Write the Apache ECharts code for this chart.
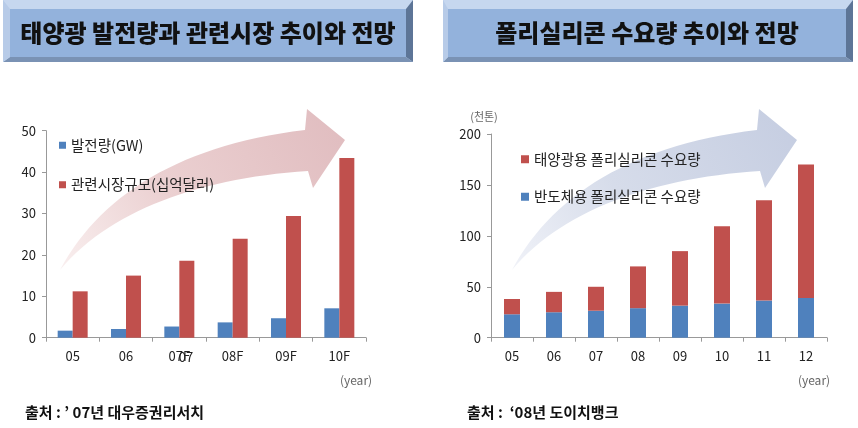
<!DOCTYPE html>
<html><head><meta charset="utf-8">
<script src="https://cdn.jsdelivr.net/npm/echarts@6/dist/echarts.min.js"></script>
<style>html,body{margin:0;padding:0;background:#fff}#c{width:858px;height:428px}</style>
</head><body><div id="c"></div>
<script>
// ---- data ----
const leftTitle = '태양광 발전량과 관련시장 추이와 전망';
const rightTitle = '폴리실리콘 수요량 추이와 전망';
const leftCategories = ['05', '06', '07F', '08F', '09F', '10F'];
const leftOverlayLabel = '07';
const powerGW = [1.7, 2.1, 2.7, 3.7, 4.7, 7.1];
const marketBillionUSD = [11.2, 15.0, 18.6, 23.9, 29.4, 43.4];
const leftSeriesNames = ['발전량(GW)', '관련시장규모(십억달러)'];
const leftYTicks = [0, 10, 20, 30, 40, 50];

const rightCategories = ['05', '06', '07', '08', '09', '10', '11', '12'];
const semiDemand = [23, 25, 26.5, 29, 31.5, 33.5, 36.5, 39];
const solarDemand = [15, 20, 23.5, 41, 53.5, 76, 98.5, 131];
const rightSeriesNames = ['태양광용 폴리실리콘 수요량', '반도체용 폴리실리콘 수요량'];
const rightYTicks = [0, 50, 100, 150, 200];
const rightUnit = '(천톤)';
const yearLabel = '(year)';
const leftSource = '출처 : ’ 07년 대우증권리서치';
const rightSource = '출처 :  ‘08년 도이치뱅크';

// ---- chart ----
const FONT = '"Noto Sans CJK KR", "Noto Sans", sans-serif';
const BLUE = '#4f81bd', RED = '#c0504d';
const chart = echarts.init(document.getElementById('c'), null, {renderer: 'canvas'});

function titleBox(x0, x1, ix0, ix1, text) {
  const y0 = 0, y1 = 62, iy0 = 9, iy1 = 57;
  return [
    {type: 'rect', z: 0, shape: {x: x0, y: y0, width: x1 - x0, height: y1 - y0}, style: {fill: '#c6d7ef'}},
    {type: 'polygon', z: 1, shape: {points: [[ix1, iy0], [x1, y0], [x1, y1], [ix1, iy1]]}, style: {fill: '#5d7597'}},
    {type: 'polygon', z: 1, shape: {points: [[ix0, iy1], [ix1, iy1], [x1, y1], [x0, y1]]}, style: {fill: '#7a92b4'}},
    {type: 'polygon', z: 1, shape: {points: [[x0, y0], [ix0, iy0], [ix0, iy1], [x0, y1]]}, style: {fill: '#b7cbe8'}},
    {type: 'rect', z: 2, shape: {x: ix0, y: iy0, width: ix1 - ix0, height: iy1 - iy0}, style: {fill: '#93b2dc'}},
    {type: 'text', z: 3, x: (ix0 + ix1) / 2, y: 33, style: {text: text, fill: '#111', font: '900 24px ' + FONT, align: 'center', verticalAlign: 'middle'}}
  ];
}

// decorative curved arrow outline, sampled from cubic curves
function cubic(p0, p1, p2, p3, n) {
  const pts = [];
  for (let i = 0; i <= n; i++) {
    const t = i / n, u = 1 - t;
    pts.push([u*u*u*p0[0] + 3*u*u*t*p1[0] + 3*u*t*t*p2[0] + t*t*t*p3[0],
              u*u*u*p0[1] + 3*u*u*t*p1[1] + 3*u*t*t*p2[1] + t*t*t*p3[1]]);
  }
  return pts;
}
function arrowPoints(dx) {
  let pts = cubic([60, 270], [100, 195], [180, 145], [305, 130], 30);
  pts = pts.concat([[307, 109], [345, 140], [313, 188]]);
  pts = pts.concat(cubic([308, 171], [200, 178], [110, 210], [60, 270], 30));
  return pts.map(p => [p[0] + dx, p[1]]);
}

const graphics = [].concat(
  titleBox(3, 413, 10, 406, leftTitle),
  titleBox(443, 853, 448, 846, rightTitle),
  [
    {type: 'polygon', z: 0, shape: {points: arrowPoints(0)}, style: {
      fill: new echarts.graphic.LinearGradient(0, 1, 1, 0, [{offset: 0, color: '#f9efef'}, {offset: 0.4, color: '#ebd0d1'}, {offset: 1, color: '#e0bcbf'}])}},
    {type: 'polygon', z: 0, shape: {points: arrowPoints(452)}, style: {
      fill: new echarts.graphic.LinearGradient(0, 1, 1, 0, [{offset: 0, color: '#f0f2f8'}, {offset: 0.4, color: '#d6dcea'}, {offset: 1, color: '#c5cde1'}])}},
    {type: 'text', z: 5, x: 186, y: 357, style: {text: leftOverlayLabel, fill: '#222', font: '13px ' + FONT, align: 'center', verticalAlign: 'middle'}},
    {type: 'text', z: 5, x: 356, y: 380, style: {text: yearLabel, fill: '#666', font: '12px ' + FONT, align: 'center', verticalAlign: 'middle'}},
    {type: 'text', z: 5, x: 814, y: 380, style: {text: yearLabel, fill: '#666', font: '12px ' + FONT, align: 'center', verticalAlign: 'middle'}},
    {type: 'text', z: 5, x: 484, y: 117, style: {text: rightUnit, fill: '#666', font: '11px ' + FONT, align: 'center', verticalAlign: 'middle'}},
    {type: 'text', z: 5, x: 25, y: 412, style: {text: leftSource, fill: '#111', font: 'bold 15px ' + FONT, align: 'left', verticalAlign: 'middle'}},
    {type: 'text', z: 5, x: 467, y: 412, style: {text: rightSource, fill: '#111', font: 'bold 15px ' + FONT, align: 'left', verticalAlign: 'middle'}}
  ]
);

const axisLine = {show: true, lineStyle: {color: '#999', width: 1}};
const axisTick = {show: true, length: 4, lineStyle: {color: '#999'}};
const labelStyle = {color: '#222', fontSize: 13, fontFamily: FONT};

chart.setOption({
  animation: false,
  graphic: {elements: graphics},
  legend: [
    {data: leftSeriesNames, orient: 'vertical', left: 59, top: 138, itemWidth: 7, itemHeight: 7, itemGap: 25,
     icon: 'rect', textStyle: {color: '#222', fontSize: 14.5, fontFamily: FONT}, padding: 0, selectedMode: false},
    {data: rightSeriesNames, orient: 'vertical', left: 521, top: 152, itemWidth: 8, itemHeight: 8, itemGap: 23,
     icon: 'rect', textStyle: {color: '#222', fontSize: 14.5, fontFamily: FONT}, padding: 0, selectedMode: false}
  ],
  grid: [
    {left: 46, top: 130.7, width: 320, height: 207},
    {left: 491, top: 134, width: 336, height: 203.7}
  ],
  xAxis: [
    {type: 'category', gridIndex: 0, data: leftCategories, axisLine, axisTick,
     axisLabel: Object.assign({margin: 12}, labelStyle)},
    {type: 'category', gridIndex: 1, data: rightCategories, axisLine, axisTick,
     axisLabel: Object.assign({margin: 12}, labelStyle)}
  ],
  yAxis: [
    {type: 'value', gridIndex: 0, min: leftYTicks[0], max: leftYTicks[leftYTicks.length - 1], interval: leftYTicks[1] - leftYTicks[0],
     axisLine, axisTick, splitLine: {show: false}, axisLabel: Object.assign({margin: 10}, labelStyle)},
    {type: 'value', gridIndex: 1, min: rightYTicks[0], max: rightYTicks[rightYTicks.length - 1], interval: rightYTicks[1] - rightYTicks[0],
     axisLine, axisTick, splitLine: {show: false}, axisLabel: Object.assign({margin: 10}, labelStyle)}
  ],
  series: [
    {name: leftSeriesNames[0], type: 'bar', xAxisIndex: 0, yAxisIndex: 0, data: powerGW, barWidth: 15, barGap: '0%', itemStyle: {color: BLUE}},
    {name: leftSeriesNames[1], type: 'bar', xAxisIndex: 0, yAxisIndex: 0, data: marketBillionUSD, barWidth: 15, barGap: '0%', itemStyle: {color: RED}},
    {name: rightSeriesNames[1], type: 'bar', xAxisIndex: 1, yAxisIndex: 1, stack: 'd', data: semiDemand, barWidth: 16, itemStyle: {color: BLUE}},
    {name: rightSeriesNames[0], type: 'bar', xAxisIndex: 1, yAxisIndex: 1, stack: 'd', data: solarDemand, barWidth: 16, itemStyle: {color: RED}}
  ]
});
</script></body></html>
